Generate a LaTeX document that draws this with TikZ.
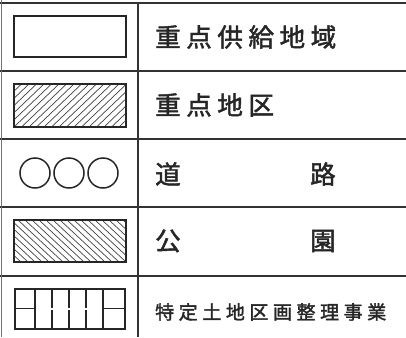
\documentclass[tikz,border=0pt]{standalone}
\usepackage{fontspec}
\newfontfamily\jp[FakeBold=1.8]{Noto Sans CJK JP}
\begin{document}
\begin{tikzpicture}[x=1pt,y=-1pt,
  rule/.style={line width=1.4pt,draw=black!80},
  sym/.style={line width=2pt,draw=black!85},
  hat/.style={line width=0.7pt,draw=black!75},
  big/.style={font=\jp\fontsize{25.5}{25.5}\selectfont\addfontfeature{LetterSpace=22},anchor=west,inner sep=0pt,text=black!85},
  small/.style={font=\jp\fontsize{19}{19}\selectfont\addfontfeature{LetterSpace=24},anchor=west,inner sep=0pt,text=black!85}]
\useasboundingbox (0,0) rectangle (406,337);
% grid
\draw[rule] (0,3) -- (406,3);
\foreach \y in {71,139,207,276} \draw[rule] (0,\y) -- (406,\y);
\draw[rule] (138,3) -- (138,337);
\draw[line width=1pt,draw=black!55] (1,0) -- (1,337);
% row 1
\draw[sym] (14,16) rectangle (126,57);
% row 2 hatched ///
\begin{scope}
\clip (14,84) rectangle (126,127);
\foreach \i in {0,...,22} \draw[hat] ({14+\i*7.5-45},127) -- ({14+\i*7.5},84);
\end{scope}
\draw[sym] (14,84) rectangle (126,127);
% row 3 circles
\foreach \cx in {35,69,103} \draw[line width=1.5pt,draw=black!85] (\cx,173) circle (15);
% row 4 hatched \\\
\begin{scope}
\clip (14,220) rectangle (126,262);
\foreach \i in {0,...,24} \draw[hat] ({14+\i*7-45},220) -- ({14+\i*7},262);
\end{scope}
\draw[sym] (14,220) rectangle (126,262);
% row 5 grid pattern
\draw[sym] (15,289) rectangle (125,329);
\draw[line width=1.8pt,draw=black!85] (15,308.5) -- (35,308.5) (103,308.5) -- (125,308.5);
\draw[line width=1.8pt,draw=black!85] (35,289) -- (35,329) (103,289) -- (103,329);
\foreach \vx in {52,69,86} \draw[line width=1.8pt,draw=black!85] (\vx,289) -- (\vx,307.5) (\vx,310) -- (\vx,329);
% texts
\node[big] (t1) at (155,37) {重点供給地域};
\node[big] (t2) at (155,105) {重点地区};
\node[big] (t3a) at (155,174) {道};
\node[big] (t3b) at (310,174) {路};
\node[big] (t4a) at (155,241) {公};
\node[big] (t4b) at (310,241) {園};
\node[small] (t5) at (155,312) {特定土地区画整理事業};
\end{tikzpicture}
\end{document}
